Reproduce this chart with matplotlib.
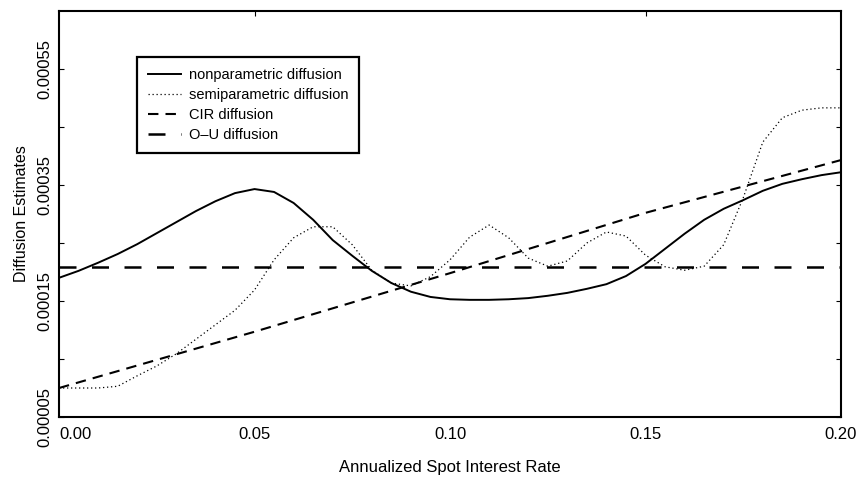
import numpy as np
import matplotlib.pyplot as plt

plt.rcParams['font.family'] = ['Liberation Sans', 'DejaVu Sans']

# spot rate grid (step 0.005) and diffusion estimates, in units of 1e-4
rate = np.round(np.arange(0, 0.2001, 0.005), 3)

nonparametric = [1.90, 2.02, 2.16, 2.31, 2.48, 2.67, 2.86, 3.05, 3.22, 3.36,
                 3.43, 3.38, 3.19, 2.90, 2.55, 2.28, 2.02, 1.81, 1.66, 1.57,
                 1.53, 1.52, 1.52, 1.53, 1.55, 1.59, 1.64, 1.71, 1.79, 1.93,
                 2.14, 2.40, 2.66, 2.90, 3.09, 3.24, 3.40, 3.52, 3.60, 3.67,
                 3.72]

semiparametric = [0.00, 0.00, 0.00, 0.03, 0.21, 0.38, 0.59, 0.84, 1.09, 1.34,
                  1.69, 2.21, 2.59, 2.78, 2.78, 2.47, 2.03, 1.81, 1.76, 1.92,
                  2.21, 2.60, 2.81, 2.59, 2.24, 2.10, 2.19, 2.50, 2.69, 2.62,
                  2.29, 2.09, 2.03, 2.10, 2.47, 3.28, 4.24, 4.66, 4.79, 4.83,
                  4.83]

cir_rate = [0.00, 0.05, 0.10, 0.15, 0.20]
cir = [0.00, 0.97, 1.98, 3.02, 3.93]

ou_rate = [0.00, 0.20]
ou = [2.09, 2.09]

scale = 1e-4

y_major = [-0.00005, 0.00015, 0.00035, 0.00055]
y_major_labels = ['0.00005', '0.00015', '0.00035', '0.00055']
y_minor = [0.00005, 0.00025, 0.00045]
x_ticks = [0.00, 0.05, 0.10, 0.15, 0.20]
x_labels = ['0.00', '0.05', '0.10', '0.15', '0.20']

fig = plt.figure(figsize=(8.58, 4.78), dpi=100)
ax = fig.add_axes([0.0688, 0.1276, 0.9114, 0.8494])

ax.plot(rate, np.array(nonparametric) * scale, color='black', lw=1.4,
        label='nonparametric diffusion')
ax.plot(rate, np.array(semiparametric) * scale, color='black', lw=0.9,
        linestyle=(0, (1, 2.2)), label='semiparametric diffusion')
ax.plot(cir_rate, np.array(cir) * scale, color='black', lw=1.5,
        linestyle=(0, (5, 3.4)), label='CIR diffusion')
ax.plot(ou_rate, np.array(ou) * scale, color='black', lw=1.8,
        linestyle=(0, (6.8, 6.2)), label='O\u2013U diffusion')

ax.set_xlim(0, 0.2)
ax.set_ylim(-0.00005, 0.00065)

ax.set_xticks(x_ticks, x_labels)
for lab in ax.get_xticklabels()[:1]:
    lab.set_horizontalalignment('left')
ax.tick_params(axis='x', length=0, pad=7, labelsize=12)

ax.set_yticks(y_major, y_major_labels, rotation=90, va='center')
ax.set_yticks(y_minor, minor=True)
ax.tick_params(axis='y', which='both', direction='in', length=3.5,
               width=0.8, left=True, right=True, pad=4.5, labelsize=12)

top = ax.secondary_xaxis('top')
top.set_xticks([0.05, 0.15])
top.tick_params(direction='in', length=3.5, width=0.8, labeltop=False)
top.spines['top'].set_visible(False)

for sp in ax.spines.values():
    sp.set_linewidth(1.5)

ax.set_xlabel('Annualized Spot Interest Rate', fontsize=12, labelpad=13)
ax.set_ylabel('Diffusion Estimates', fontsize=11.5, labelpad=6)

leg = ax.legend(loc='upper left', bbox_to_anchor=(0.0997, 0.887),
                borderaxespad=0, fancybox=False, edgecolor='black',
                fontsize=10.5, handlelength=2.3, handletextpad=0.5,
                labelspacing=0.42, borderpad=0.75, framealpha=1)
leg.get_frame().set_linewidth(1.6)

fig.savefig('out.png', dpi=100)
